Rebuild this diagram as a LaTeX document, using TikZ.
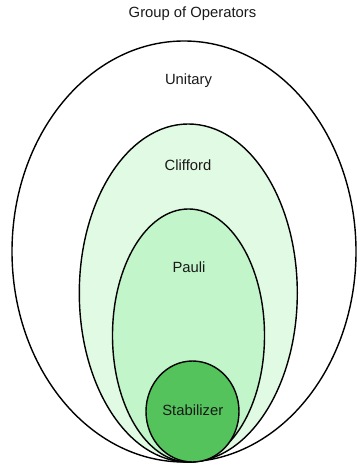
\documentclass[tikz,border=0pt]{standalone}
\usepackage{fontspec}
\setmainfont{Liberation Sans}
\usetikzlibrary{shapes.geometric}
\definecolor{cliffordfill}{HTML}{E1FAE3}
\definecolor{paulifill}{HTML}{C2F5C9}
\definecolor{stabfill}{HTML}{54C35C}
\begin{document}
\begin{tikzpicture}[x=1pt,y=1pt,
  setshape/.style={ellipse, draw=black, line width=1.4pt, inner sep=0pt},
  setlabel/.style={font=\fontsize{14.8}{17}\selectfont, text=black!90, inner sep=0pt}]
\useasboundingbox (0,0) rectangle (356,465);
% nested operator sets, outermost first
\node[setshape, fill=white, minimum width=344pt, minimum height=421pt] (unitary) at (184,213.5) {};
\node[setshape, fill=cliffordfill, minimum width=218pt, minimum height=338pt] (clifford) at (188.3,172) {};
\node[setshape, fill=paulifill, minimum width=152pt, minimum height=253pt] (pauli) at (188.5,129.5) {};
\node[setshape, fill=stabfill, minimum width=93pt, minimum height=101pt] (stabilizer) at (192.5,53.5) {};
% labels
\node[setlabel] (title) at (192.5,451) {Group of Operators};
\node[setlabel] (unitarylabel) at (188.5,384) {Unitary};
\node[setlabel] (cliffordlabel) at (188,300) {Clifford};
\node[setlabel] (paulilabel) at (189,198) {Pauli};
\node[setlabel] (stablabel) at (192.8,55) {Stabilizer};
\end{tikzpicture}
\end{document}
